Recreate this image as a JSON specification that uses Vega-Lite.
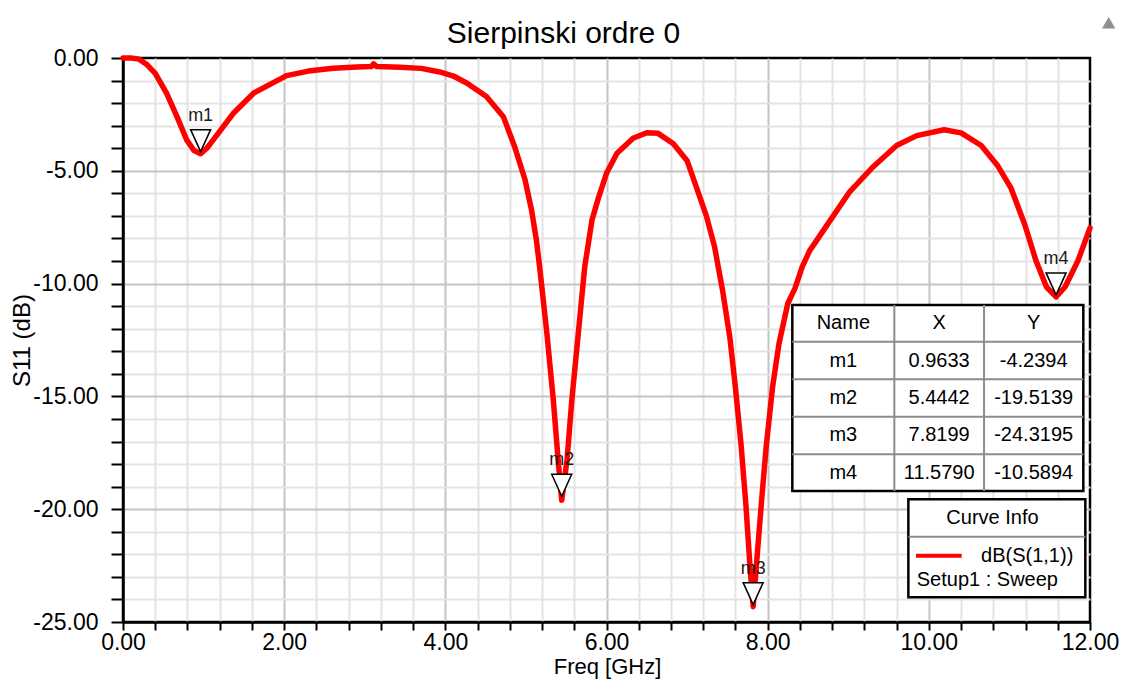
{
  "$schema": "https://vega.github.io/schema/vega-lite/v6.json",
  "width": 967,
  "height": 564,
  "autosize": {"type": "none"},
  "padding": {"left": 123, "top": 58, "right": 37, "bottom": 57},
  "background": "white",
  "title": {"text": "Sierpinski ordre 0", "font": "Liberation Sans", "fontSize": 30, "fontWeight": "normal", "color": "#000", "anchor": "middle", "dx": -43, "offset": -32},
  "config": {"view": {"stroke": "#000", "strokeWidth": 2.5}, "font": "Liberation Sans", "axis": {"labelOverlap": false}},
  "resolve": {"axis": {"x": "independent", "y": "independent"}},
  "datasets": {
    "curve": [
      {"freq": 0, "s11": 0}, {"freq": 0.1, "s11": 0}, {"freq": 0.2, "s11": -0.05}, {"freq": 0.3, "s11": -0.3},
      {"freq": 0.4, "s11": -0.68}, {"freq": 0.54, "s11": -1.56}, {"freq": 0.67, "s11": -2.6}, {"freq": 0.79, "s11": -3.63},
      {"freq": 0.88, "s11": -4.1}, {"freq": 0.9633, "s11": -4.24}, {"freq": 1.04, "s11": -4.0}, {"freq": 1.12, "s11": -3.63},
      {"freq": 1.37, "s11": -2.45}, {"freq": 1.62, "s11": -1.56}, {"freq": 2.03, "s11": -0.78}, {"freq": 2.3, "s11": -0.58},
      {"freq": 2.61, "s11": -0.45}, {"freq": 2.9, "s11": -0.4}, {"freq": 3.08, "s11": -0.38}, {"freq": 3.11, "s11": -0.26},
      {"freq": 3.15, "s11": -0.38}, {"freq": 3.44, "s11": -0.41}, {"freq": 3.7, "s11": -0.46}, {"freq": 3.93, "s11": -0.62},
      {"freq": 4.1, "s11": -0.8}, {"freq": 4.27, "s11": -1.12}, {"freq": 4.51, "s11": -1.71}, {"freq": 4.72, "s11": -2.6},
      {"freq": 4.86, "s11": -3.93}, {"freq": 4.99, "s11": -5.41}, {"freq": 5.07, "s11": -6.74}, {"freq": 5.13, "s11": -8.07},
      {"freq": 5.17, "s11": -9.25}, {"freq": 5.26, "s11": -12.2}, {"freq": 5.34, "s11": -15.16}, {"freq": 5.4, "s11": -17.82},
      {"freq": 5.4442, "s11": -19.6}, {"freq": 5.51, "s11": -17.82}, {"freq": 5.57, "s11": -15.16}, {"freq": 5.65, "s11": -12.2},
      {"freq": 5.73, "s11": -9.25}, {"freq": 5.82, "s11": -7.18}, {"freq": 5.9, "s11": -6.2}, {"freq": 6.0, "s11": -5.11},
      {"freq": 6.13, "s11": -4.22}, {"freq": 6.33, "s11": -3.56}, {"freq": 6.5, "s11": -3.31}, {"freq": 6.64, "s11": -3.34},
      {"freq": 6.83, "s11": -3.8}, {"freq": 7.0, "s11": -4.55}, {"freq": 7.11, "s11": -5.67}, {"freq": 7.24, "s11": -7.01},
      {"freq": 7.34, "s11": -8.35}, {"freq": 7.44, "s11": -10.29}, {"freq": 7.53, "s11": -12.37}, {"freq": 7.6, "s11": -14.61},
      {"freq": 7.67, "s11": -17.14}, {"freq": 7.73, "s11": -19.82}, {"freq": 7.78, "s11": -22.5}, {"freq": 7.8199, "s11": -24.32},
      {"freq": 7.86, "s11": -22.5}, {"freq": 7.92, "s11": -19.82}, {"freq": 7.98, "s11": -17.29}, {"freq": 8.06, "s11": -14.61},
      {"freq": 8.14, "s11": -12.67}, {"freq": 8.25, "s11": -10.88}, {"freq": 8.34, "s11": -10.2}, {"freq": 8.43, "s11": -9.25},
      {"freq": 8.52, "s11": -8.55}, {"freq": 8.77, "s11": -7.23}, {"freq": 9.02, "s11": -5.92}, {"freq": 9.31, "s11": -4.82},
      {"freq": 9.6, "s11": -3.88}, {"freq": 9.85, "s11": -3.44}, {"freq": 10.19, "s11": -3.18}, {"freq": 10.4, "s11": -3.32},
      {"freq": 10.65, "s11": -3.88}, {"freq": 10.85, "s11": -4.75}, {"freq": 11.02, "s11": -5.77}, {"freq": 11.19, "s11": -7.38},
      {"freq": 11.33, "s11": -8.99}, {"freq": 11.46, "s11": -10.15}, {"freq": 11.579, "s11": -10.59}, {"freq": 11.69, "s11": -10.15},
      {"freq": 11.85, "s11": -8.99}, {"freq": 12.0, "s11": -7.53}
    ],
    "markers": [
      {"name": "m1", "mf": 0.9633, "mv": -4.2394},
      {"name": "m2", "mf": 5.4442, "mv": -19.5139},
      {"name": "m3", "mf": 7.8199, "mv": -24.3195},
      {"name": "m4", "mf": 11.579, "mv": -10.5894}
    ],
    "boxes": [
      {"bx1": 8.306, "bx2": 11.917, "by1": -10.949, "by2": -19.193},
      {"bx1": 9.746, "bx2": 11.942, "by1": -19.561, "by2": -23.905}
    ],
    "lines": [
      {"lx1": 8.306, "lx2": 11.917, "ly1": -12.575, "ly2": -12.575},
      {"lx1": 8.306, "lx2": 11.917, "ly1": -14.242, "ly2": -14.242},
      {"lx1": 8.306, "lx2": 11.917, "ly1": -15.9, "ly2": -15.9},
      {"lx1": 8.306, "lx2": 11.917, "ly1": -17.566, "ly2": -17.566},
      {"lx1": 9.572, "lx2": 9.572, "ly1": -10.949, "ly2": -19.193},
      {"lx1": 10.685, "lx2": 10.685, "ly1": -10.949, "ly2": -19.193},
      {"lx1": 9.746, "lx2": 11.942, "ly1": -21.219, "ly2": -21.219}
    ],
    "cells": [
      {"cx": 8.939, "cy": -11.762, "t": "Name"}, {"cx": 10.128, "cy": -11.762, "t": "X"}, {"cx": 11.301, "cy": -11.762, "t": "Y"},
      {"cx": 8.939, "cy": -13.409, "t": "m1"}, {"cx": 10.128, "cy": -13.409, "t": "0.9633"}, {"cx": 11.301, "cy": -13.409, "t": "-4.2394"},
      {"cx": 8.939, "cy": -15.071, "t": "m2"}, {"cx": 10.128, "cy": -15.071, "t": "5.4442"}, {"cx": 11.301, "cy": -15.071, "t": "-19.5139"},
      {"cx": 8.939, "cy": -16.733, "t": "m3"}, {"cx": 10.128, "cy": -16.733, "t": "7.8199"}, {"cx": 11.301, "cy": -16.733, "t": "-24.3195"},
      {"cx": 8.939, "cy": -18.38, "t": "m4"}, {"cx": 10.128, "cy": -18.38, "t": "11.5790"}, {"cx": 11.301, "cy": -18.38, "t": "-10.5894"},
      {"cx": 10.79, "cy": -20.404, "t": "Curve Info"}
    ],
    "legendLine": [{"gx1": 9.841, "gx2": 10.408, "gy": -22.061}],
    "legendRight": [{"rx": 11.793, "ry": -22.061, "t": "dB(S(1,1))"}],
    "legendLeft": [{"qx": 9.85, "qy": -23.138, "t": "Setup1 : Sweep"}],
    "logo": [{"ox": 12.232, "oy": 1.565}]
  },
  "layer": [
    {
      "data": {"name": "markers"},
      "mark": {"type": "point", "opacity": 0},
      "encoding": {
        "x": {
          "field": "mf", "type": "quantitative",
          "scale": {"domain": [0, 12], "nice": false, "zero": false},
          "axis": {
            "orient": "bottom", "title": null, "labels": false, "domain": false,
            "values": [0.4, 0.8, 1.2, 1.6, 2.4, 2.8, 3.2, 3.6, 4.4, 4.8, 5.2, 5.6, 6.4, 6.8, 7.2, 7.6, 8.4, 8.8, 9.2, 9.6, 10.4, 10.8, 11.2, 11.6],
            "tickSize": 8, "tickWidth": 2, "tickColor": "#000",
            "grid": true, "gridWidth": 2, "gridColor": "#e4e4e4"
          }
        },
        "y": {
          "field": "mv", "type": "quantitative",
          "scale": {"domain": [-25, 0], "nice": false, "zero": false},
          "axis": {
            "orient": "left", "title": null, "labels": false, "domain": false,
            "values": [-24, -23, -22, -21, -19, -18, -17, -16, -14, -13, -12, -11, -9, -8, -7, -6, -4, -3, -2, -1],
            "tickSize": 12, "tickWidth": 2, "tickColor": "#000",
            "grid": true, "gridWidth": 2, "gridColor": "#e4e4e4"
          }
        }
      }
    },
    {
      "data": {"name": "curve"},
      "mark": {"type": "line", "color": "#ff0000", "strokeWidth": 5.5, "strokeJoin": "round", "strokeCap": "round"},
      "encoding": {
        "x": {
          "field": "freq", "type": "quantitative",
          "axis": {
            "orient": "bottom",
            "title": "Freq [GHz]",
            "values": [0, 2, 4, 6, 8, 10, 12],
            "format": ".2f",
            "tickSize": 8, "tickWidth": 2, "tickColor": "#000",
            "domainColor": "#000", "domainWidth": 2.5,
            "labelFont": "Liberation Sans", "labelFontSize": 23, "labelColor": "#000",
            "labelPadding": 12, "labelBaseline": "middle", "labelOverlap": false, "labelFlush": false,
            "grid": true, "gridWidth": 2,
            "gridColor": {"condition": {"test": "datum.value === 0 || datum.value === 12", "value": "transparent"}, "value": "#c4c4c4"},
            "titleFont": "Liberation Sans", "titleFontSize": 22, "titleFontWeight": "normal", "titleColor": "#000",
            "titleX": 484, "titleY": 44, "titleBaseline": "middle", "titleAlign": "center"
          }
        },
        "y": {
          "field": "s11", "type": "quantitative",
          "axis": {
            "orient": "left",
            "title": "S11 (dB)",
            "values": [-25, -20, -15, -10, -5, 0],
            "labelExpr": "(datum.value < 0 ? '-' : '') + format(abs(datum.value), '.2f')",
            "tickSize": 12, "tickWidth": 2, "tickColor": "#000",
            "domainColor": "#000", "domainWidth": 2.5,
            "labelFont": "Liberation Sans", "labelFontSize": 23, "labelColor": "#000",
            "labelPadding": 13, "labelOverlap": false, "labelFlush": false,
            "grid": true, "gridWidth": 2,
            "gridColor": {"condition": {"test": "datum.value === 0 || datum.value === -25", "value": "transparent"}, "value": "#c4c4c4"},
            "titleFont": "Liberation Sans", "titleFontSize": 24, "titleFontWeight": "normal", "titleColor": "#000",
            "titleX": -101, "titleY": 282, "titleAngle": -90, "titleBaseline": "middle", "titleAlign": "center"
          }
        }
      }
    },
    {
      "data": {"name": "markers"},
      "mark": {"type": "point", "shape": "M -1 -1.1 L 1 -1.1 L 0 1.1 Z", "size": 400, "filled": true, "fill": "white", "stroke": "#000", "strokeWidth": 1.5, "opacity": 1, "yOffset": -13},
      "encoding": {
        "x": {"field": "mf", "type": "quantitative", "axis": null},
        "y": {"field": "mv", "type": "quantitative", "axis": null}
      }
    },
    {
      "data": {"name": "markers"},
      "mark": {"type": "text", "font": "Liberation Sans", "fontSize": 18, "color": "#1a1a1a", "align": "center", "baseline": "middle", "yOffset": -38},
      "encoding": {
        "x": {"field": "mf", "type": "quantitative", "axis": null},
        "y": {"field": "mv", "type": "quantitative", "axis": null},
        "text": {"field": "name"}
      }
    },
    {
      "data": {"name": "boxes"},
      "mark": {"type": "rect", "fill": "white", "stroke": "#000", "strokeWidth": 2.5},
      "encoding": {
        "x": {"field": "bx1", "type": "quantitative", "axis": null},
        "x2": {"field": "bx2"},
        "y": {"field": "by1", "type": "quantitative", "axis": null},
        "y2": {"field": "by2"}
      }
    },
    {
      "data": {"name": "lines"},
      "mark": {"type": "rule", "color": "#8c8c8c", "strokeWidth": 2},
      "encoding": {
        "x": {"field": "lx1", "type": "quantitative", "axis": null},
        "x2": {"field": "lx2"},
        "y": {"field": "ly1", "type": "quantitative", "axis": null},
        "y2": {"field": "ly2"}
      }
    },
    {
      "data": {"name": "cells"},
      "mark": {"type": "text", "font": "Liberation Sans", "fontSize": 20, "color": "#000", "align": "center", "baseline": "middle"},
      "encoding": {
        "x": {"field": "cx", "type": "quantitative", "axis": null},
        "y": {"field": "cy", "type": "quantitative", "axis": null},
        "text": {"field": "t"}
      }
    },
    {
      "data": {"name": "legendLine"},
      "mark": {"type": "rule", "color": "#ff0000", "strokeWidth": 4},
      "encoding": {
        "x": {"field": "gx1", "type": "quantitative", "axis": null},
        "x2": {"field": "gx2"},
        "y": {"field": "gy", "type": "quantitative", "axis": null}
      }
    },
    {
      "data": {"name": "legendRight"},
      "mark": {"type": "text", "font": "Liberation Sans", "fontSize": 20, "color": "#000", "align": "right", "baseline": "middle"},
      "encoding": {
        "x": {"field": "rx", "type": "quantitative", "axis": null},
        "y": {"field": "ry", "type": "quantitative", "axis": null},
        "text": {"field": "t"}
      }
    },
    {
      "data": {"name": "legendLeft"},
      "mark": {"type": "text", "font": "Liberation Sans", "fontSize": 20, "color": "#000", "align": "left", "baseline": "middle"},
      "encoding": {
        "x": {"field": "qx", "type": "quantitative", "axis": null},
        "y": {"field": "qy", "type": "quantitative", "axis": null},
        "text": {"field": "t"}
      }
    },
    {
      "data": {"name": "logo"},
      "mark": {"type": "point", "shape": "triangle-up", "size": 180, "filled": true, "color": "#8f8f8f", "opacity": 1, "clip": false},
      "encoding": {
        "x": {"field": "ox", "type": "quantitative", "axis": null},
        "y": {"field": "oy", "type": "quantitative", "axis": null}
      }
    }
  ]
}
